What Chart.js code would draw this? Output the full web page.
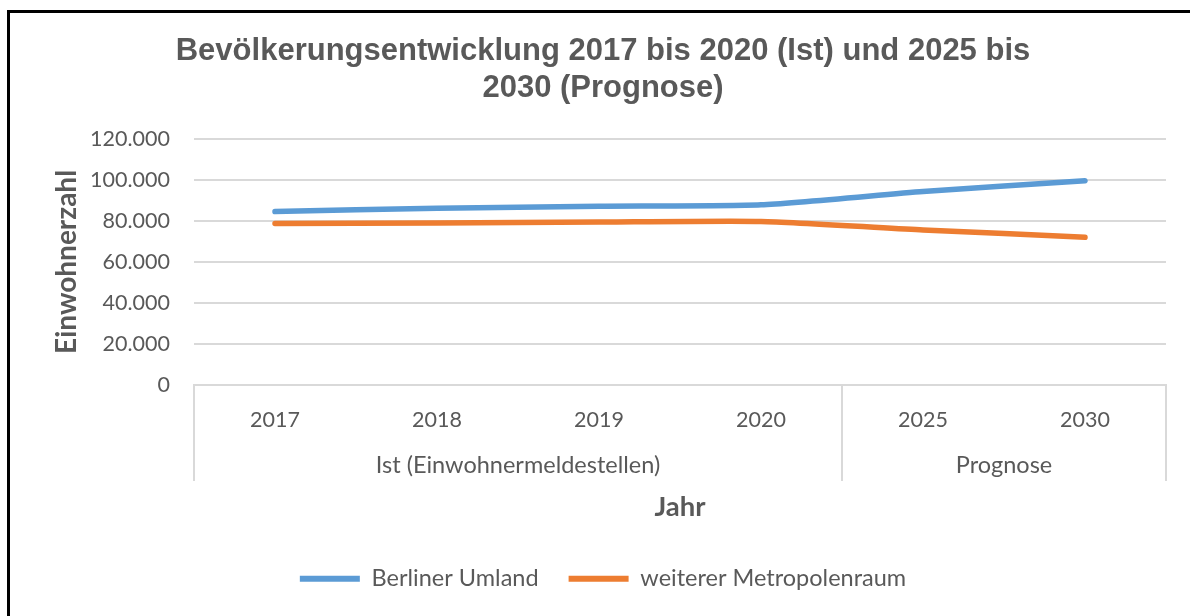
<!DOCTYPE html>
<html>
<head>
<meta charset="utf-8">
<script src="https://cdn.jsdelivr.net/npm/chart.js@4.4.0/dist/chart.umd.min.js"></script>
<style>
  html, body { margin: 0; padding: 0; background: #ffffff; }
  #wrap { width: 1190px; height: 616px; position: relative; }
</style>
</head>
<body>
<div id="wrap"><canvas id="c" width="1190" height="616"></canvas></div>
<script>
// ---- data ----
const categories = ['2017', '2018', '2019', '2020', '2025', '2030'];
const groupLabels = ['Ist (Einwohnermeldestellen)', 'Prognose'];
const groupSizes = [4, 2];
const seriesNames = ['Berliner Umland', 'weiterer Metropolenraum'];
const berlinerUmland = [84500, 86200, 87100, 87800, 94300, 99600];
const weitererMetropolenraum = [78700, 78900, 79400, 79700, 75600, 72000];
const yMin = 0, yMax = 120000, yStep = 20000;
const titleLines = ['Bevölkerungsentwicklung 2017 bis 2020 (Ist) und 2025 bis', '2030 (Prognose)'];
const yTitle = 'Einwohnerzahl';
const xTitle = 'Jahr';

const colors = ['#5B9BD5', '#ED7D31'];
const textColor = '#595959';
const gridColor = '#D9D9D9';
const fam = 'Lato, "Open Sans", sans-serif';
const tickFont = { family: fam, size: 21.5 };

function fmt(v) {
  return String(Math.round(v)).replace(/\B(?=(\d{3})+(?!\d))/g, '.');
}

const framePlugin = {
  id: 'frame',
  beforeDraw(chart) {
    const ctx = chart.ctx;
    ctx.save();
    ctx.fillStyle = '#ffffff';
    ctx.fillRect(0, 0, chart.width, chart.height);
    ctx.strokeStyle = '#000000';
    ctx.lineWidth = 3;
    ctx.beginPath();
    ctx.moveTo(8.5, chart.height + 5);
    ctx.lineTo(8.5, 11.5);
    ctx.lineTo(chart.width + 5, 11.5);
    ctx.stroke();
    ctx.restore();
  }
};

const groupPlugin = {
  id: 'groups',
  afterDraw(chart) {
    const x = chart.scales.x;
    const ctx = chart.ctx;
    ctx.save();
    ctx.strokeStyle = gridColor;
    ctx.lineWidth = 2;
    ctx.fillStyle = textColor;
    ctx.font = `23.5px ${fam}`;
    ctx.textAlign = 'center';
    ctx.textBaseline = 'middle';
    let start = 0;
    const sepBottom = 481;
    const boundaries = [x.getPixelForValue(-0.5)];
    groupSizes.forEach((n, gi) => {
      const left = x.getPixelForValue(start - 0.5);
      const right = x.getPixelForValue(start + n - 0.5);
      boundaries.push(right);
      ctx.fillText(groupLabels[gi], (left + right) / 2, 465);
      start += n;
    });
    boundaries.forEach(b => {
      ctx.beginPath();
      ctx.moveTo(Math.round(b), x.top);
      ctx.lineTo(Math.round(b), sepBottom);
      ctx.stroke();
    });
    ctx.restore();
  }
};

new Chart(document.getElementById('c'), {
  type: 'line',
  data: {
    labels: categories,
    datasets: [
      { label: seriesNames[0], data: berlinerUmland, borderColor: colors[0], backgroundColor: colors[0] },
      { label: seriesNames[1], data: weitererMetropolenraum, borderColor: colors[1], backgroundColor: colors[1] }
    ]
  },
  options: {
    responsive: false,
    animation: false,
    devicePixelRatio: 1,
    layout: { padding: { left: 40, right: 24, top: 0, bottom: 15.5 } },
    elements: {
      line: { borderWidth: 5.5, borderCapStyle: 'round', borderJoinStyle: 'round', tension: 0.2 },
      point: { radius: 0, hoverRadius: 0 }
    },
    plugins: {
      title: {
        display: true,
        text: titleLines,
        color: textColor,
        font: { family: '"Liberation Sans Narrow", "Liberation Sans", Arial, sans-serif', size: 31, weight: 'bold', lineHeight: 1.19 },
        padding: { top: 33.5, bottom: 31.5 }
      },
      legend: {
        display: true,
        position: 'bottom',
        labels: {
          color: textColor,
          font: { family: fam, size: 23.5 },
          boxWidth: 60,
          boxHeight: 6,
          useBorderRadius: true,
          borderRadius: 3,
          padding: 30,
          generateLabels(chart) {
            return chart.data.datasets.map((d, i) => ({
              text: d.label, fillStyle: d.borderColor, strokeStyle: d.borderColor,
              lineWidth: 0, datasetIndex: i, hidden: false, fontColor: textColor
            }));
          }
        }
      },
      tooltip: { enabled: false }
    },
    scales: {
      x: {
        offset: true,
        grid: { display: false, drawTicks: false },
        border: { display: true, color: gridColor, width: 2 },
        ticks: { color: textColor, font: tickFont, padding: 22, maxRotation: 0, autoSkip: false },
        title: { display: true, text: xTitle, color: textColor, font: { family: fam, size: 27.5, weight: 'bold', lineHeight: 1.2 }, padding: { top: 0, bottom: 13.5 } },
        afterFit(scale) { scale.height = 152; }
      },
      y: {
        min: yMin, max: yMax,
        grid: { color: gridColor, lineWidth: 2, drawTicks: false },
        border: { display: false },
        ticks: { stepSize: yStep, color: textColor, font: tickFont, padding: 24, callback: v => fmt(v) },
        title: { display: true, text: yTitle, color: textColor, font: { family: fam, size: 28, weight: 'bold', lineHeight: 1.2 }, padding: { top: 10, bottom: 0 } },
        afterFit(scale) { scale.width = 154; }
      }
    }
  },
  plugins: [framePlugin, groupPlugin]
});
</script>
</body>
</html>
